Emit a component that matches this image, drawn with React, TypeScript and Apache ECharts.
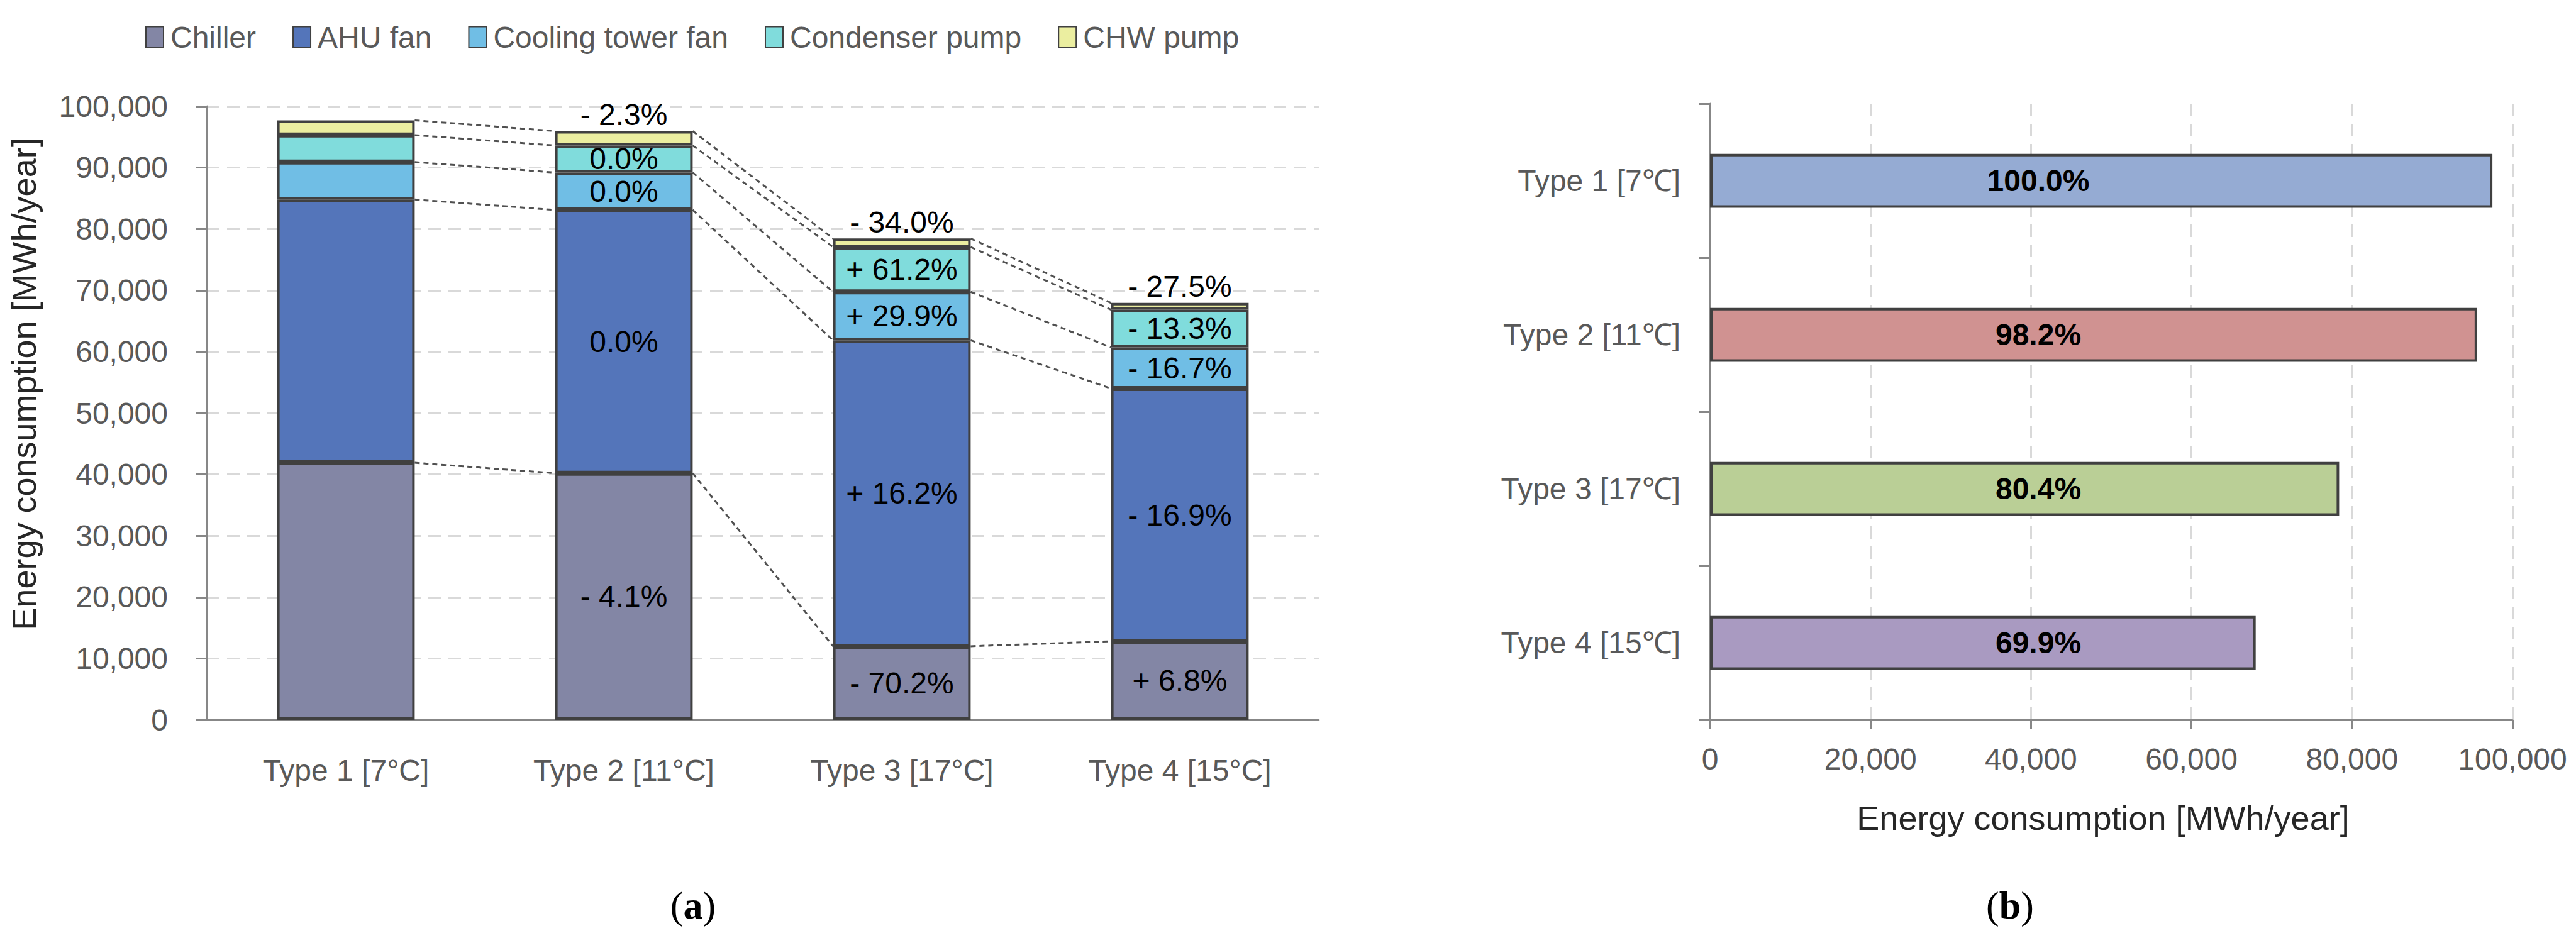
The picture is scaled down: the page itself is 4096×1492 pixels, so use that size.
import React, { useEffect, useRef } from "react";
import * as echarts from "echarts";

// ---- Data (left: stacked bars) ----
const categoriesA = ["Type 1 [7°C]", "Type 2 [11°C]", "Type 3 [17°C]", "Type 4 [15°C]"];
const seriesNames = ["Chiller", "AHU fan", "Cooling tower fan", "Condenser pump", "CHW pump"];
const chiller = [41900, 40200, 12000, 12800];
const ahuFan = [42900, 42900, 49850, 41200];
const coolingTowerFan = [6100, 6100, 7900, 6700];
const condenserPump = [4400, 4400, 7300, 6150];
const chwPump = [2400, 2350, 1400, 1100];

const chillerLabels = ["", "- 4.1%", "- 70.2%", "+ 6.8%"];
const ahuLabels = ["", "0.0%", "+ 16.2%", "- 16.9%"];
const coolingLabels = ["", "0.0%", "+ 29.9%", "- 16.7%"];
const condenserLabels = ["", "0.0%", "+ 61.2%", "- 13.3%"];
const chwLabels = ["", "- 2.3%", "- 34.0%", "- 27.5%"];

const segmentColors = ["#8386A5", "#5475BA", "#70BEE5", "#80DCDC", "#EBEEA0"];

// ---- Data (right: totals) ----
const categoriesB = ["Type 1 [7℃]", "Type 2 [11℃]", "Type 3 [17℃]", "Type 4 [15℃]"];
const totals = [97500, 95600, 78400, 68000];
const totalLabels = ["100.0%", "98.2%", "80.4%", "69.9%"];
const totalColors = ["#95ABD3", "#D09291", "#BACF96", "#A99AC1"];

const yTicksA = { min: 0, max: 100000, interval: 10000 };
const xTicksB = { min: 0, max: 100000, interval: 20000 };

const FONT = "'Liberation Sans', Arial, Helvetica, sans-serif";
const SERIF = "'Liberation Serif', 'Times New Roman', serif";
const AXIS_GRAY = "#878787";
const LABEL_GRAY = "#595959";
const GRID_GRAY = "#D9D9D9";

const fmt = (v: number) => v.toLocaleString("en-US");

export default function App() {
  const ref = useRef<HTMLDivElement>(null);

  useEffect(() => {
    document.body.style.margin = "0";
    if (!ref.current) return;
    const chart = echarts.init(ref.current, undefined, { renderer: "svg" });

    const stacks = [chiller, ahuFan, coolingTowerFan, condenserPump, chwPump];
    const labelSets = [chillerLabels, ahuLabels, coolingLabels, condenserLabels, chwLabels];

    // cumulative tops for connectors
    const cum: number[][] = categoriesA.map((_, i) => {
      let s = 0;
      return stacks.map((arr) => (s += arr[i]));
    });
    const connectorData: number[][] = [];
    for (let g = 0; g < categoriesA.length - 1; g++) {
      for (let k = 0; k < stacks.length; k++) {
        connectorData.push([g, cum[g][k], cum[g + 1][k]]);
      }
    }

    const BAR_FRAC = 0.495;

    const barSeries = stacks.map((arr, k) => ({
      name: seriesNames[k],
      type: "bar",
      stack: "total",
      xAxisIndex: 0,
      yAxisIndex: 0,
      barWidth: BAR_FRAC * 100 + "%",
      data: arr,
      itemStyle: { color: segmentColors[k], borderColor: "#404040", borderWidth: 4 },
      label: {
        show: true,
        position: k === 4 ? "top" : "inside",
        distance: 2,
        fontSize: 48,
        fontFamily: FONT,
        color: "#000",
        formatter: (p: any) => labelSets[k][p.dataIndex],
      },
      z: 3,
    }));

    const caption = (letter: string, x: number) => ({
      type: "text",
      x,
      y: 1440,
      style: {
        text: `{p|(}{b|${letter}}{p|)}`,
        textAlign: "center",
        textVerticalAlign: "middle",
        rich: {
          p: { fontFamily: SERIF, fontSize: 62, fill: "#000" },
          b: { fontFamily: SERIF, fontSize: 62, fontWeight: "bold", fill: "#000" },
        },
      },
    });

    const option: any = {
      animation: false,
      textStyle: { fontFamily: FONT },
      legend: {
        data: seriesNames,
        left: 226,
        top: 30,
        itemWidth: 28,
        itemHeight: 33,
        itemGap: 58,
        icon: "rect",
        textStyle: { fontSize: 48, color: LABEL_GRAY, fontFamily: FONT, padding: [0, 0, 0, 6] },
      },
      grid: [
        { left: 329, top: 169, width: 1768, height: 976 },
        { left: 2719, top: 165, width: 1276, height: 980 },
      ],
      xAxis: [
        {
          type: "category",
          gridIndex: 0,
          data: categoriesA,
          axisLine: { lineStyle: { color: AXIS_GRAY, width: 3 } },
          axisTick: { length: 15, lineStyle: { color: AXIS_GRAY, width: 3 } },
          axisLabel: { fontSize: 48, color: LABEL_GRAY, margin: 56, fontFamily: FONT },
        },
        {
          type: "value",
          gridIndex: 1,
          min: xTicksB.min,
          max: xTicksB.max,
          interval: xTicksB.interval,
          axisLine: { show: true, lineStyle: { color: AXIS_GRAY, width: 3 } },
          axisTick: { show: true, length: 14, lineStyle: { color: AXIS_GRAY, width: 3 } },
          axisLabel: { fontSize: 48, color: LABEL_GRAY, margin: 38, formatter: fmt, fontFamily: FONT },
          splitLine: { show: true, lineStyle: { color: GRID_GRAY, width: 3, type: [20, 12] } },
        },
      ],
      yAxis: [
        {
          type: "value",
          gridIndex: 0,
          min: yTicksA.min,
          max: yTicksA.max,
          interval: yTicksA.interval,
          axisLine: { show: true, lineStyle: { color: AXIS_GRAY, width: 3 } },
          axisTick: { show: true, length: 18, lineStyle: { color: AXIS_GRAY, width: 3 } },
          axisLabel: { fontSize: 48, color: LABEL_GRAY, margin: 62, formatter: fmt, fontFamily: FONT },
          splitLine: { show: true, lineStyle: { color: GRID_GRAY, width: 3, type: [20, 12] } },
        },
        {
          type: "category",
          gridIndex: 1,
          data: categoriesB,
          inverse: true,
          axisLine: { show: true, lineStyle: { color: AXIS_GRAY, width: 3 } },
          axisTick: { show: true, length: 17, lineStyle: { color: AXIS_GRAY, width: 3 } },
          axisLabel: { fontSize: 48, color: LABEL_GRAY, margin: 47, fontFamily: FONT },
        },
      ],
      series: [
        ...barSeries,
        {
          type: "custom",
          xAxisIndex: 0,
          yAxisIndex: 0,
          data: connectorData,
          z: 2,
          silent: true,
          renderItem: (params: any, api: any) => {
            const g = api.value(0);
            const p0 = api.coord([g, api.value(1)]);
            const p1 = api.coord([g + 1, api.value(2)]);
            const w = api.size([1, 0])[0];
            const half = (w * BAR_FRAC) / 2;
            return {
              type: "line",
              shape: { x1: p0[0] + half, y1: p0[1], x2: p1[0] - half, y2: p1[1] },
              style: { stroke: "#505050", lineWidth: 3, lineDash: [8, 6] },
            };
          },
        },
        {
          type: "bar",
          xAxisIndex: 1,
          yAxisIndex: 1,
          barWidth: "35%",
          data: totals.map((v, i) => ({ value: v, itemStyle: { color: totalColors[i] } })),
          itemStyle: { borderColor: "#404040", borderWidth: 4 },
          label: {
            show: true,
            position: [522, "50%"],
            align: "center",
            verticalAlign: "middle",
            fontSize: 48,
            fontWeight: "bold",
            color: "#000",
            fontFamily: FONT,
            formatter: (p: any) => totalLabels[p.dataIndex],
          },
        },
      ],
      graphic: [
        {
          type: "text",
          x: 38,
          y: 611,
          rotation: Math.PI / 2,
          style: {
            text: "Energy consumption [MWh/year]",
            font: `54px ${FONT}`,
            fill: "#262626",
            textAlign: "center",
            textVerticalAlign: "middle",
          },
        },
        {
          type: "text",
          x: 3344,
          y: 1301,
          style: {
            text: "Energy consumption [MWh/year]",
            font: `54px ${FONT}`,
            fill: "#262626",
            textAlign: "center",
            textVerticalAlign: "middle",
          },
        },
        caption("a", 1102),
        caption("b", 3196),
      ],
    };

    chart.setOption(option);
    return () => chart.dispose();
  }, []);

  return <div ref={ref} style={{ width: 4096, height: 1492 }} />;
}
